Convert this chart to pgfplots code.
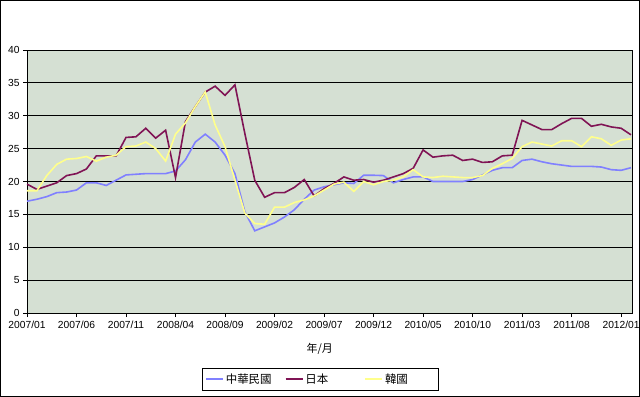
\documentclass[border=0pt]{standalone}
\usepackage{pgfplots}
\pgfplotsset{compat=1.18}
\usepackage{pgfplotstable}
\usepackage{fontspec}
\setmainfont{Liberation Sans}
\newfontfamily\cjk{Noto Sans CJK TC}
\definecolor{bgc}{RGB}{213,224,211}
\definecolor{twc}{RGB}{128,128,255}
\definecolor{jpc}{RGB}{128,20,85}
\definecolor{krc}{RGB}{255,255,140}

\pgfplotstableread{
i tw jp kr
0 17.0 19.6 18.6
1 17.3 18.8 18.6
2 17.7 19.3 20.9
3 18.3 19.8 22.6
4 18.4 20.9 23.4
5 18.7 21.2 23.5
6 19.8 21.9 23.8
7 19.8 23.9 23.1
8 19.4 23.9 23.7
9 20.2 23.9 24.0
10 21.0 26.7 25.3
11 21.1 26.8 25.4
12 21.2 28.1 26.0
13 21.2 26.6 25.0
14 21.2 27.8 23.1
15 21.6 20.6 27.2
16 23.3 29.1 28.9
17 26.0 31.4 31.4
18 27.2 33.6 33.6
19 26.0 34.5 28.6
20 24.0 33.1 25.3
21 21.2 34.7 20.2
22 15.4 27.3 15.2
23 12.5 20.2 13.6
24 13.1 17.6 13.5
25 13.7 18.3 16.1
26 14.6 18.3 16.1
27 15.7 19.1 16.8
28 17.3 20.3 17.2
29 18.7 17.8 17.8
30 19.2 18.9 18.7
31 19.5 19.7 19.6
32 19.8 20.7 19.9
33 19.7 20.2 18.5
34 20.95 20.3 20.0
35 20.95 19.9 19.5
36 20.9 20.2 20.0
37 19.8 20.7 20.2
38 20.3 21.2 20.7
39 20.7 22.0 21.8
40 20.7 24.8 20.7
41 20.0 23.7 20.6
42 20.0 23.9 20.8
43 20.0 24.0 20.7
44 20.0 23.2 20.6
45 20.3 23.4 20.6
46 21.0 22.9 20.9
47 21.7 23.0 22.0
48 22.1 23.9 22.7
49 22.1 24.0 23.5
50 23.2 29.3 25.3
51 23.4 28.6 26.0
52 23.0 27.9 25.7
53 22.7 27.9 25.4
54 22.5 28.8 26.2
55 22.3 29.6 26.2
56 22.3 29.6 25.3
57 22.3 28.4 26.8
58 22.2 28.7 26.5
59 21.8 28.3 25.5
60 21.7 28.1 26.3
61 22.1 27.1 26.5
}\data

\begin{document}
\begin{tikzpicture}
\begin{axis}[
  scale only axis, width=605bp, height=263bp,
  xmin=0, xmax=61.1, ymin=0, ymax=40,
  ytick={0,5,...,40},
  xtick={0,5,...,60},
  xticklabels={2007/01,2007/06,2007/11,2008/04,2008/09,2009/02,2009/07,2009/12,2010/05,2010/10,2011/03,2011/08,2012/01},
  ymajorgrids, grid style={black, line width=0.9bp},
  axis background/.style={fill=bgc},
  axis line style={black, line width=0.9bp},
  tick align=outside, xtick pos=bottom, ytick pos=left,
  major tick length=4bp, tick style={black, line width=0.8bp},
  ticklabel style={font=\fontsize{10.3}{12}\selectfont},
  xticklabel style={yshift=-1bp},
  /pgf/number format/assume math mode=true,
  xlabel={\cjk 年/月},
  xlabel style={at={(axis description cs:0.484,-0.135)}, anchor=center, font=\fontsize{11}{13}\selectfont},
  legend style={at={(0.4845,-0.251)}, anchor=center, draw=black, line width=0.9bp, fill=white,
    font=\fontsize{11.5}{13}\selectfont, legend columns=3, inner ysep=3.5bp},
  legend cell align=left,
]
\addplot[twc, line width=1.6bp] table[x=i, y=tw] {\data};
\addlegendentry{\makebox[57bp][l]{\cjk 中華民國}}
\addplot[jpc, line width=1.6bp] table[x=i, y=jp] {\data};
\addlegendentry{\makebox[57bp][l]{\cjk 日本}}
\addplot[krc, line width=1.6bp] table[x=i, y=kr] {\data};
\addlegendentry{\makebox[48bp][l]{\cjk 韓國}}
\end{axis}
\draw[black, line width=1bp] ([shift={(-26.5bp,-83.5bp)}]current axis.south west) rectangle ([shift={(612.5bp,312.5bp)}]current axis.south west);
\pgfresetboundingbox
\useasboundingbox ([shift={(-27bp,-84bp)}]current axis.south west) rectangle ([shift={(613bp,313bp)}]current axis.south west);
\end{tikzpicture}
\end{document}
